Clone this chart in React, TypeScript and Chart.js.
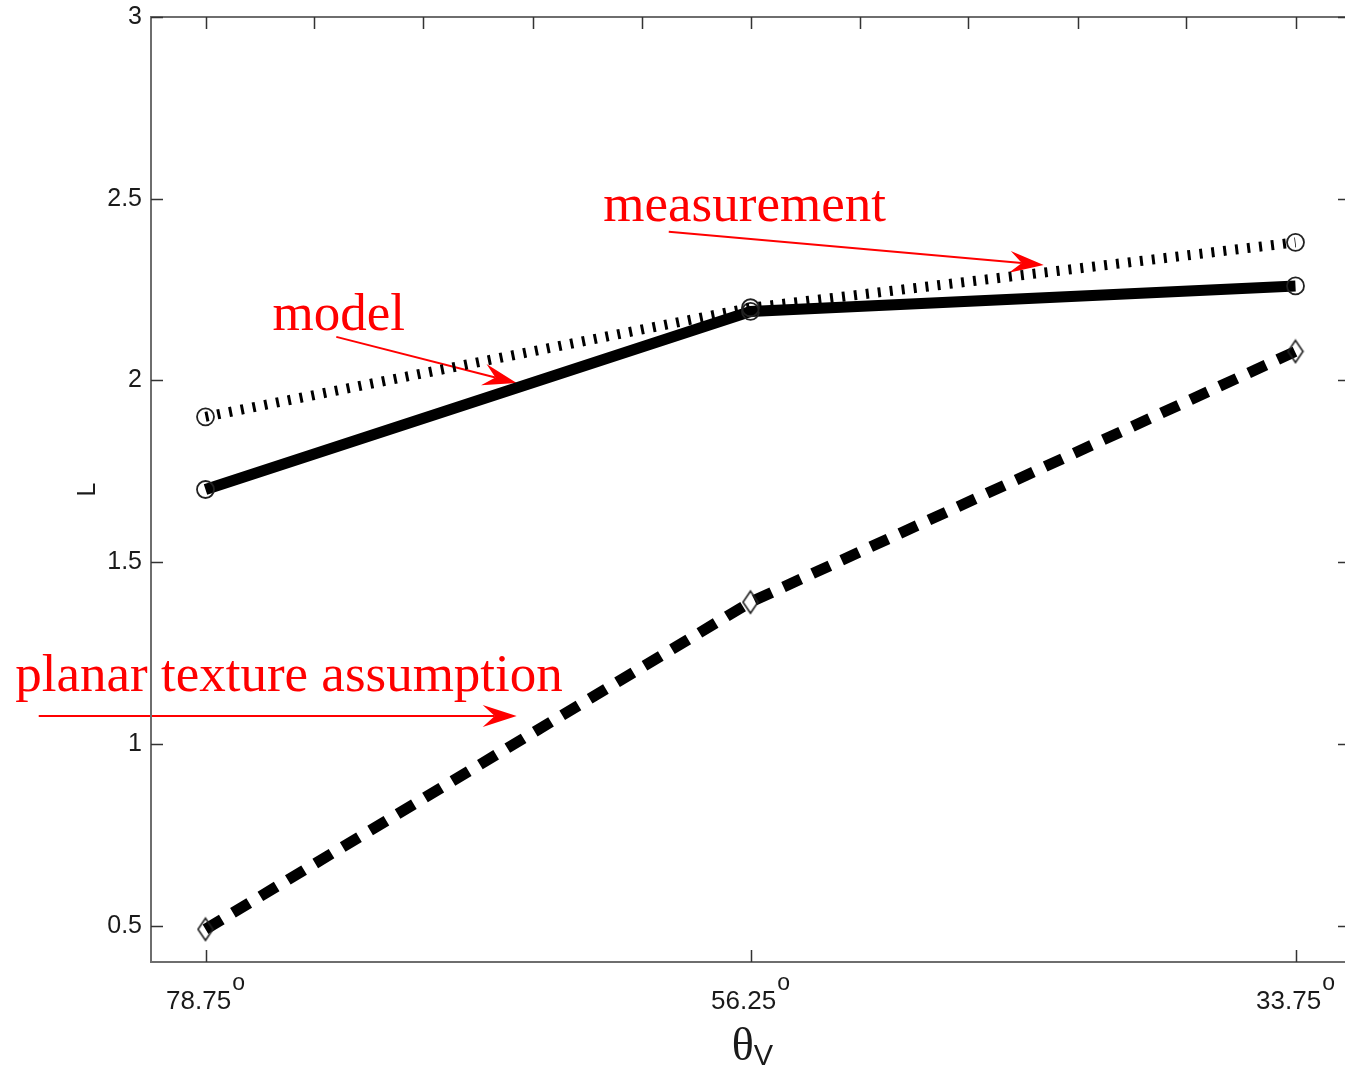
import React, { useEffect, useRef } from "react";
import { Chart, registerables } from "chart.js";

Chart.register(...registerables);

// ---------- data ----------
const categories = ["78.75", "56.25", "33.75"];
const categoryPositions = [1, 2, 3];
const measurementValues = [1.9, 2.2, 2.38];
const modelValues = [1.7, 2.19, 2.26];
const planarValues = [0.49, 1.39, 2.08];
const yTickValues = [0.5, 1, 1.5, 2, 2.5, 3];
const topTickValues = [1, 1.2, 1.4, 1.6, 1.8, 2, 2.2, 2.4, 2.6, 2.8, 3];

// ---------- annotations (data coordinates) ----------
const annotationTexts = [
  { text: "measurement", x: 1.73, y: 2.439 },
  { text: "model", x: 1.123, y: 2.139 },
  { text: "planar texture assumption", x: 0.651, y: 1.146 },
];
const annotationArrows = [
  { fromX: 1.85, fromY: 2.409, toX: 2.538, toY: 2.318 },
  { fromX: 1.24, fromY: 2.12, toX: 1.571, toY: 1.993 },
  { fromX: 0.694, fromY: 1.077, toX: 1.571, toY: 1.077 },
];

const X_MIN = 0.9;
const X_MAX = 3.1;
const Y_MIN = 0.4;
const Y_MAX = 3.0;

function makeDiamond(): HTMLCanvasElement {
  const c = document.createElement("canvas");
  c.width = 18;
  c.height = 26;
  const g = c.getContext("2d")!;
  g.beginPath();
  g.moveTo(9, 2);
  g.lineTo(16.5, 13);
  g.lineTo(9, 24);
  g.lineTo(1.5, 13);
  g.closePath();
  g.strokeStyle = "#222";
  g.lineWidth = 1.6;
  g.stroke();
  return c;
}

const annotationPlugin = {
  id: "annotationsUnder",
  beforeDraw(chart: any) {
    const { ctx, scales } = chart;
    const xs = scales.x;
    const ys = scales.y;
    ctx.save();
    ctx.fillStyle = "#ff0000";
    ctx.font = "53px 'Liberation Serif', 'Times New Roman', serif";
    ctx.textAlign = "left";
    ctx.textBaseline = "alphabetic";
    annotationTexts.forEach((a) => {
      ctx.fillText(a.text, xs.getPixelForValue(a.x), ys.getPixelForValue(a.y));
    });
    ctx.strokeStyle = "#ff0000";
    ctx.lineWidth = 2;
    annotationArrows.forEach((a) => {
      const x0 = xs.getPixelForValue(a.fromX);
      const y0 = ys.getPixelForValue(a.fromY);
      const x1 = xs.getPixelForValue(a.toX);
      const y1 = ys.getPixelForValue(a.toY);
      const ang = Math.atan2(y1 - y0, x1 - x0);
      const len = 34;
      const half = 11;
      const notch = 22;
      const cos = Math.cos(ang);
      const sin = Math.sin(ang);
      const bx = x1 - len * cos;
      const by = y1 - len * sin;
      const nx = x1 - notch * cos;
      const ny = y1 - notch * sin;
      ctx.beginPath();
      ctx.moveTo(x0, y0);
      ctx.lineTo(nx, ny);
      ctx.stroke();
      ctx.beginPath();
      ctx.moveTo(x1, y1);
      ctx.lineTo(bx - half * sin, by + half * cos);
      ctx.lineTo(nx, ny);
      ctx.lineTo(bx + half * sin, by - half * cos);
      ctx.closePath();
      ctx.fill();
    });
    ctx.restore();
  },
};

const axesPlugin = {
  id: "axesOver",
  afterDraw(chart: any) {
    const { ctx, chartArea, scales } = chart;
    const xs = scales.x;
    const ys = scales.y;
    const { left, right, top, bottom } = chartArea;
    ctx.save();
    // box
    ctx.strokeStyle = "#6e6e6e";
    ctx.lineWidth = 2;
    ctx.beginPath();
    ctx.moveTo(left, top);
    ctx.lineTo(right, top);
    ctx.lineTo(right, bottom);
    ctx.lineTo(left, bottom);
    ctx.closePath();
    ctx.stroke();
    // inward ticks
    const tl = 12;
    ctx.strokeStyle = "#333";
    ctx.lineWidth = 1.5;
    ctx.beginPath();
    yTickValues.forEach((v) => {
      const py = Math.round(ys.getPixelForValue(v)) + 0.5;
      ctx.moveTo(left, py);
      ctx.lineTo(left + tl, py);
      ctx.moveTo(right, py);
      ctx.lineTo(right - tl, py);
    });
    categoryPositions.forEach((v) => {
      const px = Math.round(xs.getPixelForValue(v)) + 0.5;
      ctx.moveTo(px, bottom);
      ctx.lineTo(px, bottom - tl);
    });
    topTickValues.forEach((v) => {
      const px = Math.round(xs.getPixelForValue(v)) + 0.5;
      ctx.moveTo(px, top);
      ctx.lineTo(px, top + tl);
    });
    ctx.stroke();

    // x tick labels with superscript o
    ctx.fillStyle = "#1a1a1a";
    ctx.textAlign = "left";
    ctx.textBaseline = "alphabetic";
    const mainFont = "26px 'Liberation Sans', Arial, sans-serif";
    const supFont = "23px 'Liberation Sans', Arial, sans-serif";
    categories.forEach((label, i) => {
      const px = xs.getPixelForValue(categoryPositions[i]);
      ctx.font = mainFont;
      const w1 = ctx.measureText(label).width;
      ctx.font = supFont;
      const w2 = ctx.measureText("o").width;
      const total = w1 + 1 + w2;
      const start = px - total / 2;
      ctx.font = mainFont;
      ctx.fillText(label, start, bottom + 47);
      ctx.font = supFont;
      ctx.fillText("o", start + w1 + 1, bottom + 28);
    });

    // x title θ with subscript V
    const cx = (left + right) / 2 + 2;
    const thetaFont = "46px 'Liberation Serif', 'Times New Roman', serif";
    const vFont = "29px 'Liberation Sans', Arial, sans-serif";
    ctx.font = thetaFont;
    const wT = ctx.measureText("θ").width;
    ctx.font = vFont;
    const wV = ctx.measureText("V").width;
    const st = cx - (wT + wV) / 2;
    ctx.font = thetaFont;
    ctx.fillText("θ", st, bottom + 98);
    ctx.font = vFont;
    ctx.fillText("V", st + wT, bottom + 103);

    // y title
    ctx.save();
    ctx.translate(left - 63, (top + bottom) / 2);
    ctx.rotate(-Math.PI / 2);
    ctx.textAlign = "center";
    ctx.textBaseline = "middle";
    ctx.font = "25px 'Liberation Sans', Arial, sans-serif";
    ctx.fillText("L", 0, 0);
    ctx.restore();

    ctx.restore();
  },
};

export default function App() {
  const canvasRef = useRef<HTMLCanvasElement | null>(null);

  useEffect(() => {
    if (!canvasRef.current) return;
    const diamond = makeDiamond();
    const toPoints = (vals: number[]) =>
      vals.map((v, i) => ({ x: categoryPositions[i], y: v }));

    const chart = new Chart(canvasRef.current, {
      type: "line",
      data: {
        datasets: [
          {
            label: "measurement",
            data: toPoints(measurementValues),
            borderColor: "#000",
            borderWidth: 10,
            borderDash: [3, 9],
            borderCapStyle: "butt",
            fill: false,
            tension: 0,
            pointStyle: "circle",
            pointRadius: 8.5,
            pointBorderWidth: 1.8,
            pointBorderColor: "#222",
            pointBackgroundColor: "rgba(0,0,0,0)",
          },
          {
            label: "model",
            data: toPoints(modelValues),
            borderColor: "#000",
            borderWidth: 11,
            borderCapStyle: "butt",
            borderJoinStyle: "miter",
            fill: false,
            tension: 0,
            pointStyle: "circle",
            pointRadius: 8.5,
            pointBorderWidth: 1.8,
            pointBorderColor: "#222",
            pointBackgroundColor: "rgba(0,0,0,0)",
          },
          {
            label: "planar texture assumption",
            data: toPoints(planarValues),
            borderColor: "#000",
            borderWidth: 11,
            borderDash: [19, 13],
            borderCapStyle: "butt",
            fill: false,
            tension: 0,
            pointStyle: diamond as any,
            pointRadius: 9,
            pointBorderWidth: 1.5,
            pointBorderColor: "#222",
            pointBackgroundColor: "rgba(0,0,0,0)",
          },
        ],
      },
      options: {
        responsive: false,
        animation: false,
        events: [],
        layout: { autoPadding: false, padding: { top: 17, right: 2, left: 0, bottom: 0 } },
        plugins: {
          legend: { display: false },
          tooltip: { enabled: false },
          title: { display: false },
        },
        scales: {
          x: {
            type: "linear",
            min: X_MIN,
            max: X_MAX,
            afterFit: (s: any) => {
              s.height = 107;
              s.paddingLeft = 0;
              s.paddingRight = 0;
              s.paddingTop = 0;
              s.paddingBottom = 0;
            },
            ticks: { display: false },
            grid: { display: false, drawTicks: false },
            border: { display: false },
          },
          y: {
            type: "linear",
            min: Y_MIN,
            max: Y_MAX,
            afterFit: (s: any) => {
              s.width = 151;
              s.paddingLeft = 0;
              s.paddingRight = 0;
              s.paddingTop = 0;
              s.paddingBottom = 0;
            },
            afterBuildTicks: (s: any) => {
              s.ticks = yTickValues.map((v) => ({ value: v }));
            },
            ticks: {
              autoSkip: false,
              padding: 9,
              color: "#1a1a1a",
              font: { family: "'Liberation Sans', Arial, sans-serif", size: 25 },
              callback: (v: any) => String(v),
            },
            grid: { display: false, drawTicks: false },
            border: { display: false },
          },
        },
      },
      plugins: [annotationPlugin, axesPlugin],
    });
    return () => chart.destroy();
  }, []);

  return (
    <div
      style={{
        position: "absolute",
        left: 0,
        top: 0,
        width: 1345,
        height: 1069,
        overflow: "hidden",
        background: "#fff",
      }}
    >
      <canvas
        ref={canvasRef}
        width={1352}
        height={1069}
        style={{ width: 1352, height: 1069, display: "block" }}
      />
    </div>
  );
}
